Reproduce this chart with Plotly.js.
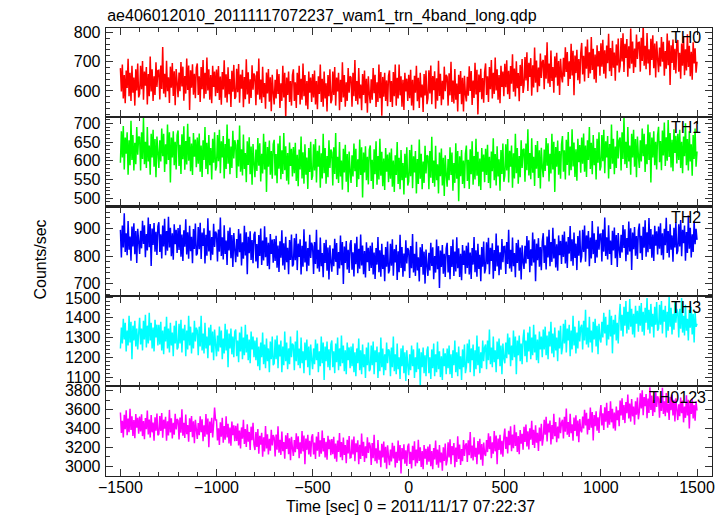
<!DOCTYPE html>
<html>
<head>
<meta charset="utf-8">
<script src="https://cdn.plot.ly/plotly-3.0.1.min.js"></script>
<style>html,body{margin:0;padding:0;background:#fff}#chart{width:727px;height:516px}</style>
</head>
<body>
<div id="chart"></div>
<script>
// Time grid: bins from -1500 s, 5 s apart
const timeStart = -1500;
const timeStep = 5;

const bandNames = ["TH0", "TH1", "TH2", "TH3", "TH0123"];
const bandColors = ["#ff0000", "#00ff00", "#0000ff", "#00ffff", "#ff00ff"];

const th0 = [
678,598,690,574,654,558,670,610,710,582,662,566,686,594,646,550,674,602,694,578,
590,686,606,702,570,666,618,682,554,658,582,718,598,674,566,650,586,698,614,670,
671,571,687,607,750,591,659,579,703,599,647,559,683,611,695,583,667,551,675,615,
579,663,599,699,615,683,567,651,591,711,603,687,535,671,611,691,587,659,575,679,
694,586,650,562,682,606,706,574,662,590,714,602,674,570,654,558,686,614,666,582,
673,593,685,569,649,553,665,605,705,577,657,561,681,589,641,545,669,597,689,573,
580,676,596,692,560,656,608,672,544,648,572,708,588,664,556,640,576,688,604,660,
651,551,667,587,711,571,639,559,683,579,627,539,663,591,675,563,647,531,655,595,
554,638,574,674,590,658,542,626,566,686,578,662,510,646,586,666,562,634,550,654,
674,566,630,542,662,586,686,554,642,570,694,582,654,550,634,538,666,594,646,562,
658,578,670,554,634,538,650,590,690,562,642,546,666,574,626,530,654,582,674,558,
570,666,586,682,550,646,598,662,534,638,562,698,578,654,546,630,566,678,594,650,
646,546,662,582,706,566,634,554,678,574,622,534,658,586,670,558,642,526,650,590,
558,640,570,678,592,655,545,630,562,690,575,665,515,648,580,662,566,636,548,652,
670,562,634,545,665,582,690,550,645,574,690,585,650,546,638,535,662,598,642,566,
655,575,672,550,638,534,652,594,686,565,645,542,662,578,622,528,658,585,670,555,
575,671,591,687,555,651,603,667,539,643,567,703,583,659,551,635,571,683,599,655,
648,550,660,585,700,562,636,557,675,570,625,530,655,590,668,555,645,530,652,588,
564,648,584,684,600,668,552,636,576,696,588,672,520,656,596,676,572,644,560,664,
694,586,650,562,682,606,706,574,662,590,714,602,674,570,654,558,686,614,666,582,
693,613,705,589,669,573,685,625,725,597,677,581,701,609,661,565,689,617,709,593,
620,716,636,732,600,696,648,712,584,688,612,748,628,704,596,680,616,728,644,700,
706,606,722,642,766,626,694,614,738,634,682,594,718,646,730,618,702,586,710,650,
629,713,649,749,665,733,617,701,641,761,653,737,585,721,661,741,637,709,625,729,
764,656,720,632,752,676,776,644,732,660,784,672,744,640,724,628,756,684,736,652,
763,683,775,659,739,643,755,695,795,667,747,651,771,679,731,635,759,687,779,663,
685,781,701,797,665,761,713,777,649,753,677,813,693,769,661,745,681,793,709,765,
766,666,782,702,826,686,754,674,798,694,742,654,778,706,790,678,762,646,770,710,
664,748,684,784,700,768,652,736,676,796,688,772,620,756,696,776,672,744,660,764,
774,666,730,642,762,686,786,654,742,670,794,682,754,650,734,638,766,694,746,662,
700
];

const th1 = [
595,679,609,693,577,662,619,676,563,655,588,707,602,669,574,648,591,690,616,665,
662,574,676,605,714,591,651,581,690,598,641,563,672,609,683,584,658,556,665,612,
581,655,598,686,612,672,570,644,591,697,602,676,542,662,609,679,588,651,577,669,
681,586,643,565,671,604,692,576,653,590,699,600,664,572,646,562,674,611,657,583,
662,592,673,571,641,557,655,602,690,578,648,564,669,588,634,550,659,595,676,574,
585,669,599,683,567,652,609,666,553,645,578,697,592,659,564,638,581,680,606,655,
642,554,656,585,694,571,631,561,670,578,621,543,652,589,663,564,638,536,645,592,
556,630,573,661,587,647,545,619,566,672,577,651,517,637,584,654,563,626,552,644,
656,561,618,540,646,579,667,551,628,565,674,575,639,547,621,537,649,586,632,558,
637,567,648,546,616,532,630,577,665,553,623,539,644,563,609,525,634,570,651,549,
560,644,574,658,542,627,584,641,528,620,553,672,567,634,539,613,556,655,581,630,
622,534,636,565,674,551,611,541,650,558,601,523,632,569,643,544,618,516,625,572,
541,615,558,646,572,632,530,604,551,657,562,636,502,622,569,639,548,611,537,629,
641,546,603,525,631,564,652,536,613,550,659,560,624,532,606,522,634,571,617,543,
622,552,633,531,601,517,615,562,650,538,608,524,629,548,594,510,619,555,636,534,
545,629,559,643,527,612,569,626,513,605,538,657,552,619,524,598,541,640,566,615,
612,524,626,555,664,541,601,531,640,548,591,513,622,559,633,534,608,506,615,562,
531,605,548,636,562,622,520,594,541,647,552,626,492,612,559,629,538,601,527,619,
641,546,603,525,631,564,652,536,613,550,659,560,624,532,606,522,634,571,617,543,
632,562,643,541,611,527,625,572,660,548,618,534,639,558,604,520,629,565,646,544,
560,644,574,658,542,627,584,641,528,620,553,672,567,634,539,613,556,655,581,630,
632,544,646,575,684,561,621,551,660,568,611,533,642,579,653,554,628,526,635,582,
556,630,573,661,587,647,545,619,566,672,577,651,517,637,584,654,563,626,552,644,
666,571,628,550,656,589,677,561,638,575,684,585,649,557,631,547,659,596,642,568,
662,592,673,571,641,557,655,602,690,578,648,564,669,588,634,550,659,595,676,574,
585,669,599,683,567,652,609,666,553,645,578,697,592,659,564,638,581,680,606,655,
662,574,676,605,714,591,651,581,690,598,641,563,672,609,683,584,658,556,665,612,
581,655,598,686,612,672,570,644,591,697,602,676,542,662,609,679,588,651,577,669,
691,596,653,575,681,614,702,586,663,600,709,610,674,582,656,572,684,621,667,593,
672,602,683,581,651,567,665,612,700,588,658,574,679,598,644,560,669,605,686,584,
625
];

const th2 = [
896,796,912,832,956,816,884,804,928,824,872,784,908,836,920,808,892,776,900,840,
809,893,829,929,845,913,797,881,821,941,833,917,765,901,841,921,817,889,805,909,
924,816,880,792,912,836,936,804,892,820,944,832,904,800,884,788,916,844,896,812,
903,823,915,799,879,783,895,835,935,807,887,791,911,819,871,775,899,827,919,803,
810,906,826,922,790,886,838,902,774,878,802,938,818,894,786,870,806,918,834,890,
881,781,897,817,941,801,869,789,913,809,857,769,893,821,905,793,877,761,885,825,
779,863,799,899,815,883,767,851,791,911,803,887,735,871,811,891,787,859,775,879,
889,781,845,757,877,801,901,769,857,785,909,797,869,765,849,753,881,809,861,777,
863,783,875,759,839,743,855,795,895,767,847,751,871,779,831,735,859,787,879,763,
770,866,786,882,750,846,798,862,734,838,762,898,778,854,746,830,766,878,794,850,
836,736,852,772,896,756,824,744,868,764,812,724,848,776,860,748,832,716,840,780,
744,828,764,864,780,848,732,816,756,876,768,852,700,836,776,856,752,824,740,844,
859,751,815,727,847,771,871,739,827,755,879,767,839,735,819,723,851,779,831,747,
838,758,850,734,814,718,830,770,870,742,822,726,846,754,806,710,834,762,854,738,
750,846,766,862,730,826,778,842,714,818,742,878,758,834,726,810,746,858,774,830,
821,721,837,757,881,741,809,729,853,749,797,709,833,761,845,733,817,701,825,765,
729,813,749,849,765,833,717,801,741,861,753,837,685,821,761,841,737,809,725,829,
849,741,805,717,837,761,861,729,817,745,869,757,829,725,809,713,841,769,821,737,
838,758,850,734,814,718,830,770,870,742,822,726,846,754,806,710,834,762,854,738,
755,851,771,867,735,831,783,847,719,823,747,883,763,839,731,815,751,863,779,835,
836,736,852,772,896,756,824,744,868,764,812,724,848,776,860,748,832,716,840,780,
754,838,774,874,790,858,742,826,766,886,778,862,710,846,786,866,762,834,750,854,
884,776,840,752,872,796,896,764,852,780,904,792,864,760,844,748,876,804,856,772,
878,798,890,774,854,758,870,810,910,782,862,766,886,794,846,750,874,802,894,778,
800,896,816,912,780,876,828,892,764,868,792,928,808,884,776,860,796,908,824,880,
881,781,897,817,941,801,869,789,913,809,857,769,893,821,905,793,877,761,885,825,
794,878,814,914,830,898,782,866,806,926,818,902,750,886,826,906,802,874,790,894,
919,811,875,787,907,831,931,799,887,815,939,827,899,795,879,783,911,839,891,807,
908,828,920,804,884,788,900,840,940,812,892,796,916,824,876,780,904,832,924,808,
820,916,836,932,800,896,848,912,784,888,812,948,828,904,796,880,816,928,844,900,
860
];

const th3 = [
1245,1350,1270,1395,1290,1375,1230,1335,1260,1410,1275,1380,1190,1360,1285,1385,1255,1345,1240,1370,
1400,1265,1345,1235,1385,1290,1415,1250,1360,1270,1425,1285,1375,1245,1350,1230,1390,1300,1365,1260,
1365,1265,1380,1235,1335,1215,1355,1280,1405,1245,1345,1225,1375,1260,1325,1205,1360,1270,1385,1240,
1250,1370,1270,1390,1225,1345,1285,1365,1205,1335,1240,1410,1260,1355,1220,1325,1245,1385,1280,1350,
1335,1210,1355,1255,1410,1235,1320,1220,1375,1245,1305,1195,1350,1260,1365,1225,1330,1185,1340,1265,
1205,1310,1230,1355,1250,1335,1190,1295,1220,1370,1235,1340,1150,1320,1245,1345,1215,1305,1200,1330,
1340,1205,1285,1175,1325,1230,1355,1190,1300,1210,1365,1225,1315,1185,1290,1170,1330,1240,1305,1200,
1285,1185,1300,1155,1255,1135,1275,1200,1325,1165,1265,1145,1295,1180,1245,1125,1280,1190,1305,1160,
1170,1290,1190,1310,1145,1265,1205,1285,1125,1255,1160,1330,1180,1275,1140,1245,1165,1305,1200,1270,
1260,1135,1280,1180,1335,1160,1245,1145,1300,1170,1230,1120,1275,1185,1290,1150,1255,1110,1265,1190,
1140,1245,1165,1290,1185,1270,1125,1230,1155,1305,1170,1275,1085,1255,1180,1280,1150,1240,1135,1265,
1285,1150,1230,1120,1270,1175,1300,1135,1245,1155,1310,1170,1260,1130,1235,1115,1275,1185,1250,1145,
1255,1155,1270,1125,1225,1105,1245,1170,1295,1135,1235,1115,1265,1150,1215,1095,1250,1160,1275,1130,
1140,1260,1160,1280,1115,1235,1175,1255,1095,1225,1130,1300,1150,1245,1110,1215,1135,1275,1170,1240,
1230,1105,1250,1150,1305,1130,1215,1115,1270,1140,1200,1090,1245,1155,1260,1120,1225,1080,1235,1160,
1110,1215,1135,1260,1155,1240,1095,1200,1125,1275,1140,1245,1055,1225,1150,1250,1120,1210,1105,1235,
1255,1120,1200,1090,1240,1145,1270,1105,1215,1125,1280,1140,1230,1100,1205,1085,1245,1155,1220,1115,
1245,1145,1260,1115,1215,1095,1235,1160,1285,1125,1225,1105,1255,1140,1205,1085,1240,1150,1265,1120,
1150,1270,1170,1290,1125,1245,1185,1265,1105,1235,1140,1310,1160,1255,1120,1225,1145,1285,1180,1250,
1265,1140,1285,1185,1340,1165,1250,1150,1305,1175,1235,1125,1280,1190,1295,1155,1260,1115,1270,1195,
1170,1275,1195,1320,1215,1300,1155,1260,1185,1335,1200,1305,1115,1285,1210,1310,1180,1270,1165,1295,
1340,1205,1285,1175,1325,1230,1355,1190,1300,1210,1365,1225,1315,1185,1290,1170,1330,1240,1305,1200,
1340,1240,1355,1210,1310,1190,1330,1255,1380,1220,1320,1200,1350,1235,1300,1180,1335,1245,1360,1215,
1250,1370,1270,1390,1225,1345,1285,1365,1205,1335,1240,1410,1260,1355,1220,1325,1245,1385,1280,1350,
1365,1240,1385,1285,1440,1265,1350,1250,1405,1275,1335,1225,1380,1290,1395,1255,1360,1215,1370,1295,
1275,1380,1300,1425,1320,1405,1260,1365,1290,1440,1305,1410,1220,1390,1315,1415,1285,1375,1270,1400,
1470,1335,1415,1305,1455,1360,1485,1320,1430,1340,1495,1355,1445,1315,1420,1300,1460,1370,1435,1330,
1460,1360,1475,1330,1430,1310,1450,1375,1500,1340,1440,1320,1470,1355,1420,1300,1455,1365,1480,1335,
1345,1465,1365,1485,1320,1440,1380,1460,1300,1430,1335,1505,1355,1450,1315,1420,1340,1480,1375,1445,
1425,1300,1445,1345,1500,1325,1410,1310,1465,1335,1395,1285,1440,1350,1455,1315,1420,1275,1430,1355,
1370
];

const th0123 = [
3568,3352,3480,3304,3544,3392,3592,3328,3504,3360,3608,3384,3528,3320,3488,3296,3552,3408,3512,3344,
3526,3366,3550,3318,3478,3286,3510,3390,3590,3334,3494,3302,3542,3358,3462,3270,3518,3374,3558,3326,
3340,3532,3372,3564,3300,3492,3396,3524,3268,3476,3324,3596,3356,3508,3292,3460,3332,3556,3388,3500,
3482,3282,3514,3354,3602,3322,3458,3298,3546,3338,3434,3258,3506,3362,3530,3306,3474,3242,3490,3370,
3288,3456,3328,3528,3360,3496,3264,3432,3312,3552,3336,3504,3200,3472,3352,3512,3304,3448,3620,3488,
3488,3272,3400,3224,3464,3312,3512,3248,3424,3280,3528,3304,3448,3240,3408,3216,3472,3328,3432,3264,
3426,3266,3450,3218,3378,3186,3410,3290,3490,3234,3394,3202,3442,3258,3362,3170,3418,3274,3458,3226,
3170,3362,3202,3394,3130,3322,3226,3354,3098,3306,3154,3426,3186,3338,3122,3290,3162,3386,3218,3330,
3302,3102,3334,3174,3422,3142,3278,3118,3366,3158,3254,3078,3326,3182,3350,3126,3294,3062,3310,3190,
3108,3276,3148,3348,3180,3316,3084,3252,3132,3372,3156,3324,3020,3292,3172,3332,3124,3268,3100,3308,
3338,3122,3250,3074,3314,3162,3362,3098,3274,3130,3378,3154,3298,3090,3258,3066,3322,3178,3282,3114,
3286,3126,3310,3078,3238,3046,3270,3150,3350,3094,3254,3062,3302,3118,3222,3030,3278,3134,3318,3086,
3090,3282,3122,3314,3050,3242,3146,3274,3018,3226,3074,3346,3106,3258,3042,3210,3082,3306,3138,3250,
3212,3012,3244,3084,3332,3052,3188,3028,3276,3068,3164,2988,3236,3092,3260,3036,3204,2972,3220,3100,
3008,3176,3048,3248,3080,3216,2984,3152,3032,3272,3056,3224,2920,3192,3072,3232,3024,3168,3000,3208,
3238,3022,3150,2974,3214,3062,3262,2998,3174,3030,3278,3054,3198,2990,3158,2966,3222,3078,3182,3014,
3206,3046,3230,2998,3158,2966,3190,3070,3270,3014,3174,2982,3222,3038,3142,2950,3198,3054,3238,3006,
3060,3252,3092,3284,3020,3212,3116,3244,2988,3196,3044,3316,3076,3228,3012,3180,3052,3276,3108,3220,
3242,3042,3274,3114,3362,3082,3218,3058,3306,3098,3194,3018,3266,3122,3290,3066,3234,3002,3250,3130,
3108,3276,3148,3348,3180,3316,3084,3252,3132,3372,3156,3324,3020,3292,3172,3332,3124,3268,3100,3308,
3398,3182,3310,3134,3374,3222,3422,3158,3334,3190,3438,3214,3358,3150,3318,3126,3382,3238,3342,3174,
3416,3256,3440,3208,3368,3176,3400,3280,3480,3224,3384,3192,3432,3248,3352,3160,3408,3264,3448,3216,
3300,3492,3332,3524,3260,3452,3356,3484,3228,3436,3284,3556,3316,3468,3252,3420,3292,3516,3348,3460,
3492,3292,3524,3364,3612,3332,3468,3308,3556,3348,3444,3268,3516,3372,3540,3316,3484,3252,3500,3380,
3358,3526,3398,3598,3430,3566,3334,3502,3382,3622,3406,3574,3270,3542,3422,3582,3374,3518,3350,3558,
3648,3432,3560,3384,3624,3472,3672,3408,3584,3440,3688,3464,3608,3400,3568,3376,3632,3488,3592,3424,
3696,3536,3720,3488,3648,3456,3680,3560,3760,3504,3664,3472,3712,3528,3632,3440,3688,3544,3728,3496,
3580,3772,3612,3804,3540,3732,3636,3764,3508,3716,3564,3836,3596,3748,3532,3700,3572,3796,3628,3740,
3712,3512,3744,3584,3832,3552,3688,3528,3776,3568,3664,3488,3736,3592,3760,3536,3704,3472,3720,3600,
3488,3656,3528,3728,3560,3696,3464,3632,3512,3752,3536,3704,3400,3672,3552,3712,3504,3648,3480,3688,
3590
];

const series = [th0, th1, th2, th3, th0123];

const yTicks = [
  {dtick: 100, minor: 20},
  {dtick: 50, minor: 10},
  {dtick: 100, minor: 20},
  {dtick: 100, minor: 20},
  {dtick: 200, minor: 100}
];

const titleText = "ae406012010_20111117072237_wam1_trn_4band_long.qdp";
const xTitleText = "Time [sec] 0 = 2011/11/17 07:22:37";
const yTitleText = "Counts/sec";

// ---- layout geometry (not data) ----
const yRanges = [[511, 815], [478, 717], [656, 981], [1055, 1510], [2894, 3850]];
const domains = [[0.8013, 1], [0.6016, 0.8013], [0.4018, 0.6016], [0.2009, 0.4018], [0, 0.2009]];
const labelY = [0.9788, 0.7779, 0.5781, 0.3761, 0.1752];
const labelX = [0.9851, 0.9851, 0.9851, 0.9851, 0.9934];
const xRange = [-1575, 1578];

const FONT = "Liberation Sans, Arial, Helvetica, sans-serif";

const traces = series.map((vals, k) => ({
  type: "scatter",
  mode: "lines",
  x: vals.map((_, i) => timeStart + timeStep * i),
  y: vals,
  xaxis: k === 0 ? "x" : "x" + (k + 1),
  yaxis: k === 0 ? "y" : "y" + (k + 1),
  line: {color: bandColors[k], width: 1.5},
  hoverinfo: "skip",
  showlegend: false
}));

const layout = {
  width: 727,
  height: 516,
  margin: {l: 106, r: 15, t: 28, b: 40},
  paper_bgcolor: "#fff",
  plot_bgcolor: "#fff",
  font: {family: FONT, size: 16, color: "#000"},
  title: {
    text: titleText,
    font: {family: FONT, size: 16, color: "#000"},
    xref: "paper", x: 0.002, xanchor: "left",
    yref: "container", y: 0.971, yanchor: "middle"
  },
  annotations: [],
  showlegend: false
};

const axisStyle = {
  showline: true,
  linecolor: "#222",
  linewidth: 1.3,
  mirror: "allticks",
  ticks: "inside",
  ticklen: 7,
  tickwidth: 1,
  tickcolor: "#333",
  showgrid: false,
  zeroline: false,
  tickfont: {family: FONT, size: 16, color: "#000"}
};

for (let k = 0; k < 5; k++) {
  const xa = k === 0 ? "xaxis" : "xaxis" + (k + 1);
  const ya = k === 0 ? "yaxis" : "yaxis" + (k + 1);
  const yid = k === 0 ? "y" : "y" + (k + 1);
  const xid = k === 0 ? "x" : "x" + (k + 1);
  layout[xa] = Object.assign({}, axisStyle, {
    anchor: yid,
    range: xRange,
    tick0: 0,
    dtick: 500,
    minor: {dtick: 100, tick0: 0, ticks: "inside", ticklen: 4, tickcolor: "#333", tickwidth: 1},
    showticklabels: k === 4,
    ticklabelstandoff: -4,
    domain: [0, 1]
  });
  if (k > 0) layout[xa].matches = "x";
  layout[ya] = Object.assign({}, axisStyle, {
    anchor: xid,
    domain: domains[k],
    range: yRanges[k],
    tick0: 0,
    dtick: yTicks[k].dtick,
    minor: {dtick: yTicks[k].minor, tick0: 0, ticks: "inside", ticklen: 4, tickcolor: "#333", tickwidth: 1},
    ticklabelstandoff: 1
  });
  layout.annotations.push({
    text: bandNames[k],
    xref: "paper", yref: "paper",
    x: labelX[k], y: labelY[k],
    xanchor: "right", yanchor: "middle",
    showarrow: false,
    font: {family: FONT, size: 16, color: "#000"}
  });
}

layout.annotations.push({
  text: yTitleText,
  xref: "paper", yref: "paper",
  x: -0.1081, y: 0.4844,
  xanchor: "center", yanchor: "middle",
  textangle: -90,
  showarrow: false,
  font: {family: FONT, size: 16, color: "#000"}
});
layout.annotations.push({
  text: xTitleText,
  xref: "paper", yref: "paper",
  x: 0.5017, y: -0.069,
  xanchor: "center", yanchor: "middle",
  showarrow: false,
  font: {family: FONT, size: 16, color: "#000"}
});

Plotly.newPlot("chart", traces, layout, {displayModeBar: false, staticPlot: true});
</script>
</body>
</html>
